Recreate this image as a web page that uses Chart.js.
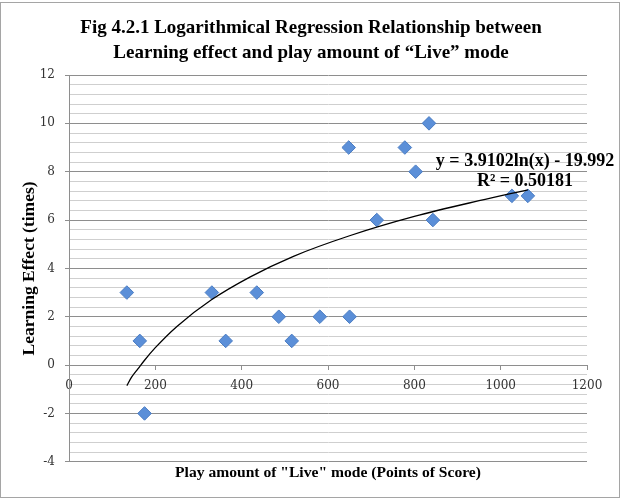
<!DOCTYPE html>
<html lang="en">

<head>
    <meta charset="UTF-8">
    <title>Fig 4.2.1 Logarithmical Regression</title>
    <style>
        body { margin: 0; background: #fff; }
        #frame {
            position: absolute;
            left: 0; top: 2px;
            width: 620px; height: 496px;
            box-sizing: border-box;
            border: 1px solid #a5a5a5;
        }
        #wrap {
            position: absolute;
            left: 0; top: 0;
            width: 622px; height: 498px;
        }
    </style>
    <script src="https://cdn.jsdelivr.net/npm/chart.js"></script>
</head>

<body>
    <div id="frame"></div>
    <div id="wrap"><canvas id="graphic"></canvas></div>
    <script>
        // play amount (points of score) and learning effect
        const playAmount = [134, 164, 175, 331, 363, 435, 486, 516, 581, 650, 648, 713, 778, 803, 834, 843, 1026, 1063];
        const learningEffect = [3, 1, -2, 3, 1, 3, 2, 1, 2, 2, 9, 6, 9, 8, 10, 6, 7, 7];

        // points along the drawn trendline
        const trendX = [134, 145, 160, 175, 200, 250, 330, 420, 520, 650, 800, 950, 1063];
        const trendY = [-0.85, -0.5, -0.15, 0.2, 0.72, 1.6, 2.7, 3.65, 4.5, 5.35, 6.15, 6.8, 7.25];

        const titleLines = ["Fig 4.2.1 Logarithmical Regression Relationship between", "Learning effect and play amount of \u201cLive\u201d mode"];
        const xTitle = 'Play amount of "Live" mode (Points of Score)';
        const yTitle = "Learning Effect (times)";
        const equationLines = ["y = 3.9102ln(x) - 19.992", "R\u00b2 = 0.50181"];

        const serif = "'Liberation Serif', 'DejaVu Serif', serif";
        const tickFont = { family: "'DejaVu Serif', serif", size: 12 };

        const isMajor = (v) => Math.abs(v / 2 - Math.round(v / 2)) < 1e-6;

        const equationLabel = {
            id: "equationLabel",
            afterDatasetsDraw(chart) {
                const { ctx, chartArea, scales } = chart;
                const cx = chartArea.right - 62;
                ctx.save();
                ctx.font = "bold 18px " + serif;
                ctx.fillStyle = "#000";
                ctx.textAlign = "center";
                ctx.textBaseline = "middle";
                ctx.fillText(equationLines[0], cx, scales.y.getPixelForValue(8.42));
                ctx.fillText(equationLines[1], cx, scales.y.getPixelForValue(7.6));
                ctx.restore();
            }
        };

        const points = playAmount.map((x, i) => ({ x, y: learningEffect[i] }));
        const trend = trendX.map((x, i) => ({ x, y: trendY[i] }));

        new Chart(document.getElementById("graphic"), {
            type: "scatter",
            data: {
                datasets: [{
                    type: "line",
                    data: trend,
                    borderColor: "#000",
                    borderWidth: 1.3,
                    pointRadius: 0,
                    cubicInterpolationMode: "monotone",
                    fill: false
                }, {
                    data: points,
                    pointStyle: "rectRot",
                    pointRadius: 6.8,
                    backgroundColor: "#5b8fd8",
                    borderColor: "#4a7cc2",
                    borderWidth: 1
                }]
            },
            options: {
                responsive: true,
                maintainAspectRatio: false,
                animation: false,
                layout: { padding: 0 },
                plugins: {
                    legend: { display: false },
                    tooltip: { enabled: false },
                    title: {
                        display: true,
                        text: titleLines,
                        color: "#000",
                        font: { family: serif, size: 19, weight: "bold", lineHeight: 1.3 },
                        padding: { top: 16, bottom: 9.6 }
                    }
                },
                scales: {
                    x: {
                        type: "linear",
                        position: { y: 0 },
                        min: 0,
                        max: 1200,
                        ticks: {
                            stepSize: 200,
                            color: "#333",
                            font: tickFont,
                            padding: 10,
                            callback: (v) => String(v)
                        },
                        grid: { drawOnChartArea: false, tickLength: 4, color: "#8e8e8e" },
                        border: { color: "#8e8e8e" }
                    },
                    xTitle: {
                        type: "linear",
                        axis: "x",
                        position: "bottom",
                        min: 0,
                        max: 1200,
                        ticks: { display: false },
                        grid: { display: false, drawTicks: false },
                        border: { display: false },
                        title: {
                            display: true,
                            text: xTitle,
                            color: "#000",
                            font: { family: serif, size: 15.6, weight: "bold", lineHeight: 1.2 },
                            padding: { top: 1.9, bottom: 15.6 }
                        }
                    },
                    y: {
                        min: -4,
                        max: 12,
                        afterFit(scale) { scale.width = 69; },
                        ticks: {
                            stepSize: 0.4,
                            autoSkip: false,
                            color: "#333",
                            font: tickFont,
                            padding: 10,
                            callback: (v) => isMajor(v) ? String(Math.round(v)) : ""
                        },
                        grid: {
                            tickLength: 4,
                            color: (c) => isMajor(c.tick.value) ? "#8e8e8e" : "#cfcfcf",
                            tickColor: (c) => isMajor(c.tick.value) ? "#8e8e8e" : "rgba(0,0,0,0)"
                        },
                        border: { color: "#8e8e8e" },
                        title: {
                            display: true,
                            text: yTitle,
                            color: "#000",
                            font: { family: serif, size: 17.5, weight: "bold", lineHeight: 1.2 },
                            padding: { top: 19, bottom: 0 }
                        }
                    },
                    // empty right-hand axis that only keeps the margin beside the plot
                    yRight: {
                        type: "linear",
                        axis: "y",
                        position: "right",
                        min: -4,
                        max: 12,
                        afterFit(scale) { scale.width = 35; },
                        ticks: { display: false },
                        grid: { display: false, drawTicks: false },
                        border: { display: false }
                    }
                }
            },
            plugins: [equationLabel]
        });
    </script>
</body>

</html>
